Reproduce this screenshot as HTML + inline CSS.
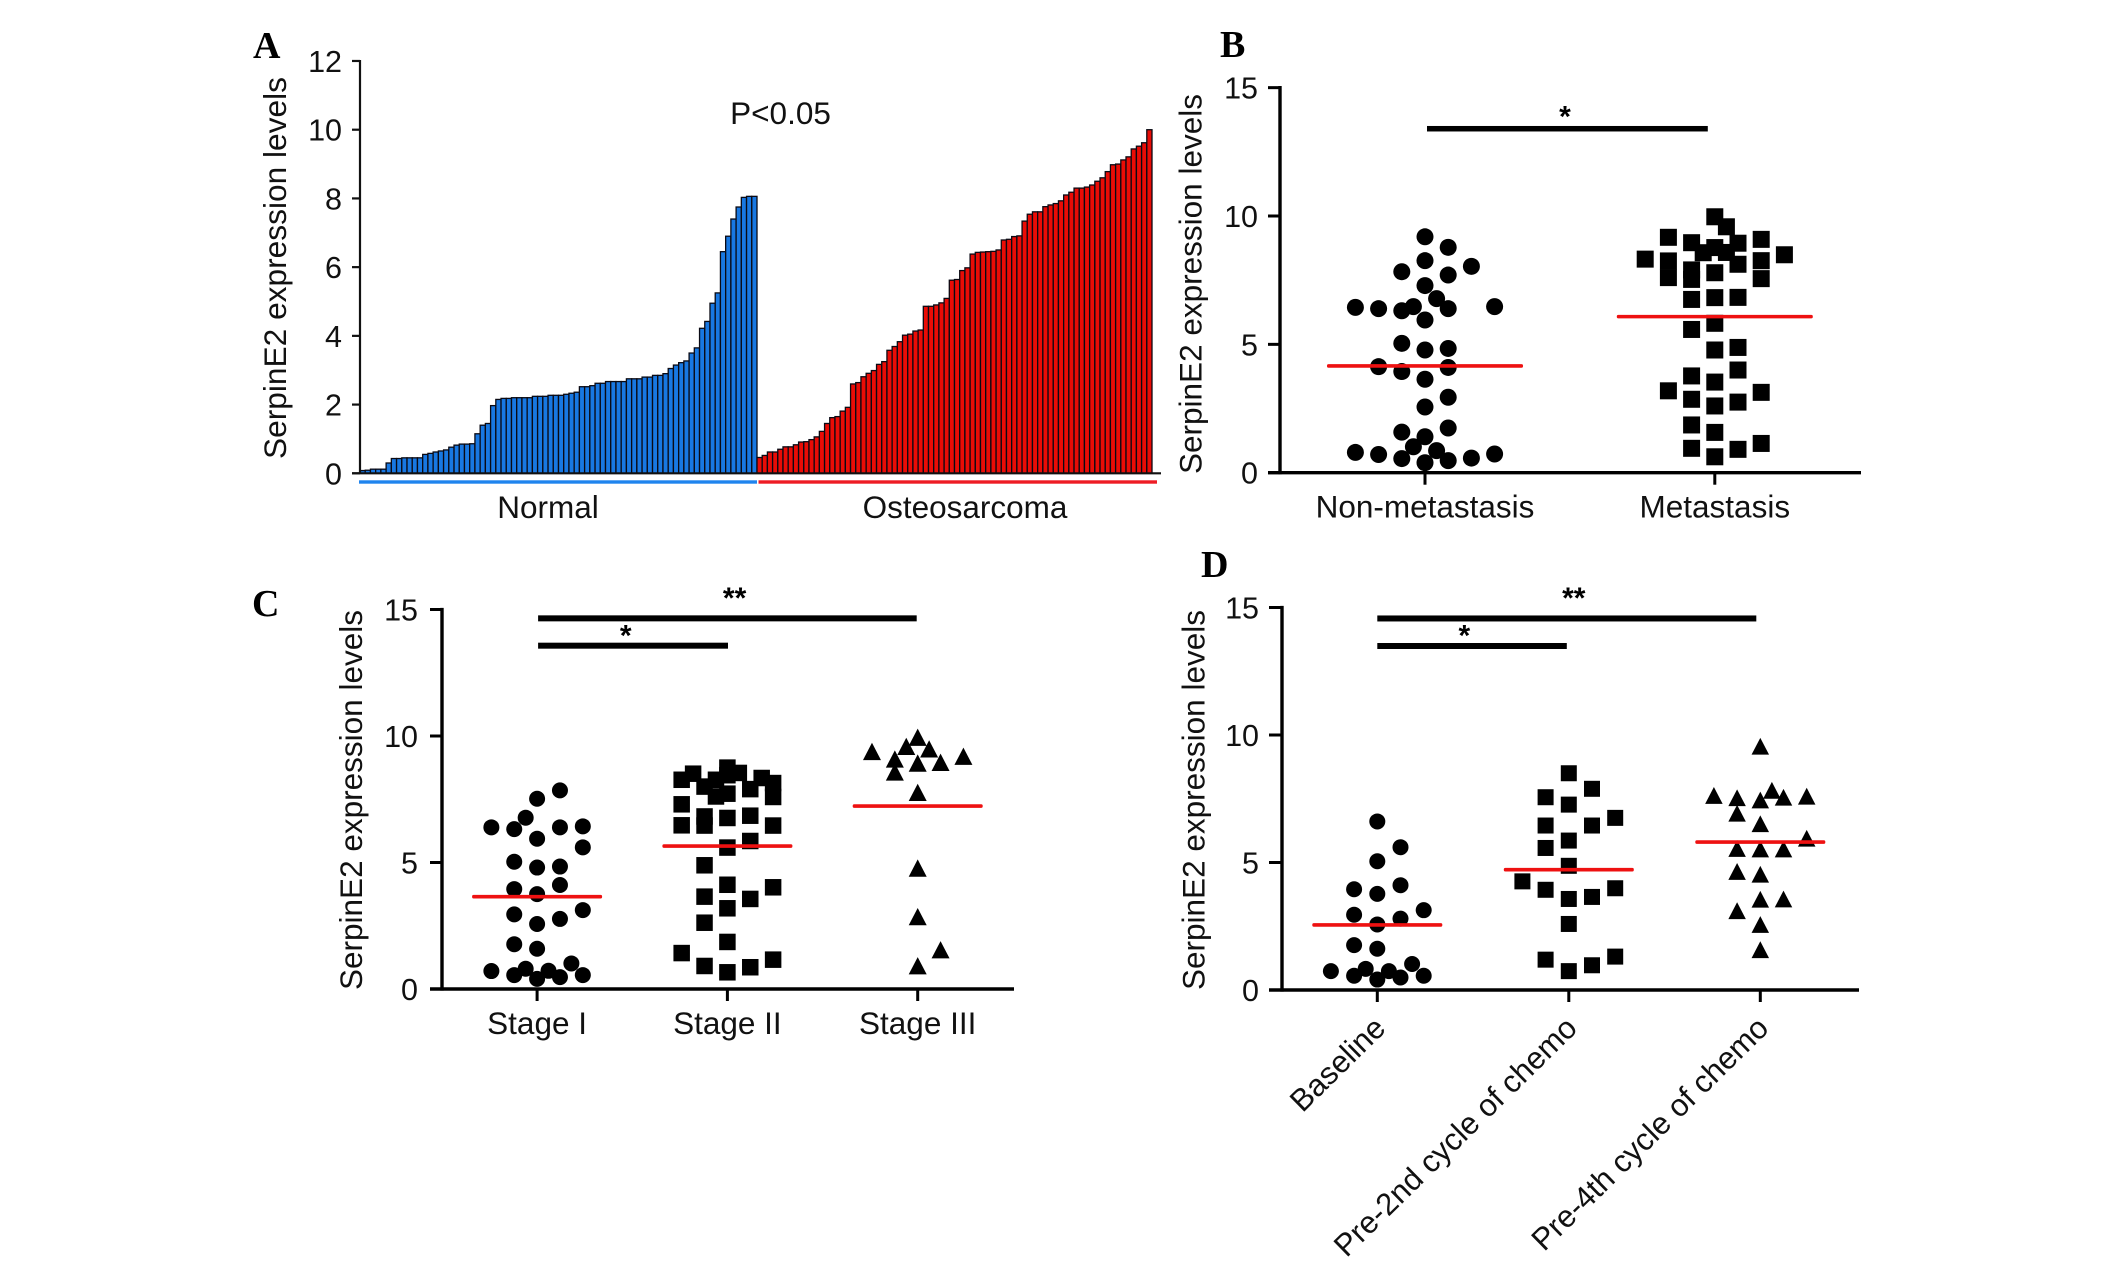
<!DOCTYPE html>
<html lang="en">
<head>
<meta charset="utf-8">
<title>SerpinE2 expression levels</title>
<style>
  html, body { margin: 0; padding: 0; background: #fff; }
  svg { display: block; }
  text { font-family: "Liberation Sans", sans-serif; fill: #111; }
  .lbl { font-size: 31.5px; }
  .lbl-rot { font-size: 31px; }
  .tick { font-size: 30.5px; text-anchor: end; }
  .letter { font-family: "Liberation Serif", serif; font-weight: bold; font-size: 38px; fill: #000; }
  .star { font-weight: bold; font-size: 30px; text-anchor: middle; fill: #000; }
</style>
</head>
<body>
<svg id="figure" xmlns="http://www.w3.org/2000/svg" width="2126" height="1270" viewBox="0 0 2126 1270">
  <rect x="0" y="0" width="2126" height="1270" fill="#ffffff"/>

  <text class="letter" x="253" y="58">A</text>
  <text class="letter" x="1220" y="57">B</text>
  <text class="letter" x="252" y="616">C</text>
  <text class="letter" x="1201" y="577">D</text>

  <text class="lbl" text-anchor="middle" textLength="382" lengthAdjust="spacingAndGlyphs" transform="translate(286 268) rotate(-90)">SerpinE2 expression levels</text>
  <text class="lbl" text-anchor="middle" textLength="380" lengthAdjust="spacingAndGlyphs" transform="translate(1201.5 284) rotate(-90)">SerpinE2 expression levels</text>
  <text class="lbl" text-anchor="middle" textLength="380" lengthAdjust="spacingAndGlyphs" transform="translate(362 800) rotate(-90)">SerpinE2 expression levels</text>
  <text class="lbl" text-anchor="middle" textLength="380" lengthAdjust="spacingAndGlyphs" transform="translate(1204.5 800) rotate(-90)">SerpinE2 expression levels</text>

  <text class="lbl" text-anchor="middle" x="780.5" y="124">P&lt;0.05</text>
  <text class="lbl" text-anchor="middle" x="548" y="518">Normal</text>
  <text class="lbl" text-anchor="middle" x="965" y="518">Osteosarcoma</text>
  <rect x="359" y="480.3" width="398" height="3.4" fill="#1f84ee"/>
  <rect x="758.5" y="480.3" width="398.5" height="3.4" fill="#ee1c25"/>

  <g id="chart-a"></g>
  <g id="chart-b"></g>
  <g id="chart-c"></g>
  <g id="chart-d"></g>
</svg>

<script>
// ---------- Panel A data ----------
const barTickLabels = [0, 2, 4, 6, 8, 10, 12];
const normalLevels = [0.08,0.09,0.12,0.12,0.12,0.3,0.43,0.43,0.45,0.45,0.45,0.45,0.55,0.58,0.62,0.65,0.68,0.76,0.82,0.85,0.85,0.86,1.15,1.4,1.45,1.97,2.15,2.18,2.18,2.2,2.2,2.2,2.2,2.24,2.24,2.24,2.27,2.27,2.27,2.3,2.33,2.36,2.52,2.52,2.55,2.62,2.62,2.67,2.67,2.67,2.67,2.75,2.75,2.75,2.8,2.8,2.85,2.85,2.9,3.05,3.15,3.22,3.27,3.5,3.65,4.22,4.42,4.95,5.25,6.45,6.9,7.4,7.75,8.03,8.06,8.06];
const osteoLevels = [0.46,0.52,0.62,0.62,0.7,0.77,0.77,0.83,0.91,0.92,0.98,1.06,1.22,1.45,1.62,1.65,1.81,1.92,2.6,2.64,2.81,2.91,2.99,3.17,3.25,3.58,3.69,3.83,4.02,4.05,4.14,4.17,4.86,4.86,4.9,4.96,5.09,5.62,5.64,5.9,5.98,6.38,6.43,6.44,6.45,6.46,6.5,6.79,6.81,6.89,6.91,7.34,7.54,7.61,7.61,7.76,7.81,7.85,7.93,8.1,8.18,8.3,8.3,8.33,8.39,8.5,8.6,8.78,8.98,9.0,9.12,9.21,9.44,9.52,9.62,10.0];

// ---------- Panel B data ----------
const metastasisCategories = ['Non-metastasis', 'Metastasis'];
const metastasisTicks = [0, 5, 10, 15];
const nonMetValues = [9.19,8.78,8.26,8.04,7.83,7.7,7.29,6.78,6.44,6.39,6.31,6.47,6.39,6.47,5.95,5.04,4.78,4.84,4.13,3.94,4.1,3.64,2.94,2.56,1.74,1.58,1.4,1.01,0.86,0.79,0.71,0.73,0.55,0.57,0.47,0.39];
const nonMetSlots  = [0,2,0,4,-2,2,0,1,-6,-4,-2,-1,2,6,0,-2,0,2,-4,-2,2,0,2,0,2,-2,0,-1,1,-6,-4,6,-2,4,2,0];
const metValues = [9.97,9.58,9.17,8.96,8.94,9.09,8.77,8.57,8.58,8.49,8.32,8.25,8.26,8.12,7.9,7.79,7.6,7.53,7.56,6.83,6.82,6.75,5.82,5.58,4.88,4.78,4.0,3.77,3.53,3.19,3.13,2.86,2.75,2.6,1.86,1.57,1.14,0.91,0.95,0.62];
const metSlots  = [0,1,-4,-2,2,4,0,-1,1,6,-6,-4,4,2,-2,0,-4,-2,4,2,0,-2,0,-2,2,0,2,-2,0,-4,4,-2,2,0,-2,0,4,2,-2,0];
const metastasisMeans = [4.16, 6.08];

// ---------- Panel C data ----------
const stageCategories = ['Stage I', 'Stage II', 'Stage III'];
const stageTicks = [0, 5, 10, 15];
const stageOneValues = [7.85,7.52,6.77,6.39,6.32,6.39,6.43,5.94,5.6,5.03,4.8,4.84,4.11,3.95,3.75,3.12,2.95,2.77,2.57,1.77,1.59,1.01,0.71,0.8,0.72,0.55,0.55,0.47,0.4];
const stageOneSlots  = [2,0,-1,-4,-2,2,4,0,4,-2,0,2,2,-2,0,4,-2,2,0,-2,0,3,-4,-1,1,-2,4,2,0];
const stageTwoValues = [8.75,8.54,8.51,8.27,8.27,8.34,8.14,8.45,8.0,7.9,7.61,7.72,7.59,7.3,6.82,6.76,6.85,6.46,6.47,6.46,5.85,5.59,4.89,4.12,4.02,3.56,3.65,3.19,2.62,1.86,1.42,0.91,0.86,1.16,0.66];
const stageTwoSlots  = [0,1,-3,-4,-1,3,4,0,-2,2,-1,0,4,-4,-2,0,2,-2,-4,4,2,0,-2,0,4,2,-2,0,-2,0,-4,-2,2,4,0];
const stageThreeValues = [9.95,9.59,9.49,9.39,9.2,9.09,8.93,8.96,8.58,7.77,4.78,2.86,1.55,0.92];
const stageThreeSlots  = [0,-1,1,-4,4,-2,0,2,-2,0,0,0,2,0];
const stageMeans = [3.65, 5.65, 7.23];

// ---------- Panel D data ----------
const chemoCategories = ['Baseline', 'Pre-2nd cycle of chemo', 'Pre-4th cycle of chemo'];
const chemoTicks = [0, 5, 10, 15];
const baselineValues = [6.61,5.6,5.05,4.11,3.95,3.77,3.13,2.95,2.8,2.57,1.76,1.62,1.02,0.74,0.83,0.74,0.56,0.56,0.49,0.41];
const baselineSlots  = [0,2,0,2,-2,0,4,-2,2,0,-2,0,3,-4,-1,1,-2,4,2,0];
const preSecondValues = [8.5,7.89,7.56,7.27,6.75,6.45,6.45,5.86,5.57,4.87,4.26,3.93,3.99,3.65,3.57,2.59,1.31,1.19,0.97,0.74];
const preSecondSlots  = [0,2,-2,0,4,-2,2,0,-2,0,-4,-2,4,2,0,0,4,-2,2,0];
const preFourthValues = [9.56,7.83,7.63,7.54,7.56,7.6,7.45,6.93,6.52,5.95,5.55,5.53,5.53,4.65,4.54,3.56,3.57,3.11,2.57,1.58];
const preFourthSlots  = [0,1,-4,-2,2,4,0,-2,0,4,-2,0,2,-2,0,0,2,-2,0,0];
const chemoMeans = [2.55, 4.72, 5.8];

// ---------- Drawing ----------
const SVG_NS = 'http://www.w3.org/2000/svg';
function make(tag, parent, attrs) {
  const el = document.createElementNS(SVG_NS, tag);
  for (const k in attrs) el.setAttribute(k, attrs[k]);
  parent.appendChild(el);
  return el;
}

function drawBars(parent, values, xStart, xEnd, yOf, fill, name) {
  const step = (xEnd - xStart) / values.length;
  values.forEach(function (v, i) {
    const bar = make('rect', parent, {
      x: xStart + i * step, y: yOf(v), width: step, height: yOf(0) - yOf(v),
      fill: fill, stroke: '#0a0a14', 'stroke-width': 1.3
    });
    
    
  });
}

(function panelA() {
  const g = document.getElementById('chart-a');
  const y0 = 473.3, unit = 34.36, axisX = 360;
  const yOf = function (v) { return y0 - v * unit; };
  drawBars(g, normalLevels, axisX, 757, yOf, '#1878e2', 'normal-bar');
  drawBars(g, osteoLevels, 757, 1152, yOf, '#ea0c06', 'osteosarcoma-bar');

  const yAxis = make('line', g, { x1: axisX, x2: axisX, y1: yOf(12) - 1, y2: y0, stroke: '#111', 'stroke-width': 2.2 });
  
  
  const xAxis = make('line', g, { x1: 352, x2: 1161, y1: y0, y2: y0, stroke: '#111', 'stroke-width': 2.2 });
  
  

  barTickLabels.forEach(function (t) {
    const tick = make('line', g, { x1: 352, x2: axisX, y1: yOf(t), y2: yOf(t), stroke: '#111', 'stroke-width': 2.2 });
    
    
    const lab = make('text', g, { x: 342, y: yOf(t) + 11, class: 'tick' });
    lab.textContent = t;
    
    
  });
})();

function drawPoint(g, shape, cx, cy, size) {
  let el;
  if (shape === 'circle') {
    el = make('circle', g, { cx: cx, cy: cy, r: size / 2, fill: '#000' });
  } else if (shape === 'square') {
    el = make('rect', g, { x: cx - size / 2, y: cy - size / 2, width: size, height: size, fill: '#000' });
  } else {
    const h = size * 0.96;
    el = make('polygon', g, {
      points: cx + ',' + (cy - h / 2) + ' ' + (cx + size / 2) + ',' + (cy + h / 2) + ' ' + (cx - size / 2) + ',' + (cy + h / 2),
      fill: '#000'
    });
  }
  return el;
}

function drawScatterPanel(cfg) {
  const g = document.getElementById(cfg.id);
  const yOf = function (v) { return cfg.y0 - v * cfg.unit; };
  const xOf = function (i) { return cfg.firstX + i * cfg.step; };

  cfg.groups.forEach(function (grp, i) {
    grp.values.forEach(function (v, k) {
      const pt = drawPoint(g, grp.shape, xOf(i) + grp.slots[k] * cfg.slotStep, yOf(v), cfg.sizes[grp.shape]);
      
      
    });
  });

  cfg.means.forEach(function (m, i) {
    const line = make('rect', g, { x: xOf(i) - cfg.meanHalf, y: yOf(m) - 1.8, width: cfg.meanHalf * 2, height: 3.6, rx: 1.5, fill: '#ee1111' });
    
    
  });

  const yAxis = make('line', g, { x1: cfg.axisX, x2: cfg.axisX, y1: yOf(15) - 1.6, y2: cfg.y0 + 1.6, stroke: '#000', 'stroke-width': 3.4 });
  
  
  const xAxis = make('line', g, { x1: cfg.tickLeft, x2: cfg.axisEnd, y1: cfg.y0, y2: cfg.y0, stroke: '#000', 'stroke-width': 3.4 });
  
  

  cfg.ticks.forEach(function (t) {
    const tick = make('line', g, { x1: cfg.tickLeft, x2: cfg.axisX, y1: yOf(t), y2: yOf(t), stroke: '#000', 'stroke-width': 3 });
    
    
    const lab = make('text', g, { x: cfg.labelRight, y: yOf(t) + 11, class: 'tick' });
    lab.textContent = t;
    
    
  });

  cfg.categories.forEach(function (c, i) {
    const tick = make('line', g, { x1: xOf(i), x2: xOf(i), y1: cfg.y0, y2: cfg.y0 + 12, stroke: '#000', 'stroke-width': 3 });
    
    
    const lab = make('text', g, { class: cfg.rotated ? 'lbl-rot' : 'lbl' });
    if (cfg.rotated) {
      lab.setAttribute('text-anchor', 'end');
      lab.setAttribute('transform', 'translate(' + (xOf(i) + 10) + ' ' + (cfg.y0 + 40) + ') rotate(-44.5)');
    } else {
      lab.setAttribute('text-anchor', 'middle');
      lab.setAttribute('x', xOf(i));
      lab.setAttribute('y', cfg.y0 + 45);
    }
    lab.textContent = c;
    
    
  });

  cfg.sig.forEach(function (s) {
    const x1 = xOf(s.from) + s.startOff, x2 = xOf(s.to) + s.endOff, y = yOf(s.level);
    const bar = make('rect', g, { x: x1, y: y - s.thick / 2, width: x2 - x1, height: s.thick, fill: '#000' });
    
    
    const star = make('text', g, { x: s.starX, y: y - 0.4 + s.starDy, class: 'star' });
    star.textContent = s.star;
    
    
  });
}

drawScatterPanel({
  id: 'chart-b', prefix: 'panel-b', y0: 472.7, unit: 25.67, axisX: 1280, tickLeft: 1268, axisEnd: 1861, labelRight: 1258,
  firstX: 1425, step: 289.8, slotStep: 11.6, meanHalf: 98, sizes: { circle: 17, square: 17, triangle: 17 },
  ticks: metastasisTicks, categories: metastasisCategories, means: metastasisMeans,
  groups: [
    { name: 'non-metastasis', shape: 'circle', values: nonMetValues, slots: nonMetSlots },
    { name: 'metastasis', shape: 'square', values: metValues, slots: metSlots }
  ],
  sig: [{ from: 0, to: 1, level: 13.4, thick: 5.5, startOff: 2, endOff: -7, star: '*', starX: 1565, starDy: -2 }]
});

drawScatterPanel({
  id: 'chart-c', prefix: 'panel-c', y0: 989, unit: 25.3, axisX: 442, tickLeft: 430, axisEnd: 1014, labelRight: 418,
  firstX: 537.1, step: 190.3, slotStep: 11.43, meanHalf: 65, sizes: { circle: 16, square: 16.5, triangle: 18 },
  ticks: stageTicks, categories: stageCategories, means: stageMeans,
  groups: [
    { name: 'stage-i', shape: 'circle', values: stageOneValues, slots: stageOneSlots },
    { name: 'stage-ii', shape: 'square', values: stageTwoValues, slots: stageTwoSlots },
    { name: 'stage-iii', shape: 'triangle', values: stageThreeValues, slots: stageThreeSlots }
  ],
  sig: [
    { from: 0, to: 2, level: 14.65, thick: 6, startOff: 1, endOff: -1, star: '**', starX: 734.6, starDy: -10 },
    { from: 0, to: 1, level: 13.57, thick: 6, startOff: 1, endOff: 0.6, star: '*', starX: 625.7, starDy: 0 }
  ]
});

drawScatterPanel({
  id: 'chart-d', prefix: 'panel-d', y0: 990, unit: 25.5, axisX: 1282, tickLeft: 1269, axisEnd: 1859, labelRight: 1259,
  firstX: 1377.3, step: 191.5, slotStep: 11.6, meanHalf: 65, sizes: { circle: 16, square: 16, triangle: 17.5 },
  ticks: chemoTicks, categories: chemoCategories, means: chemoMeans, rotated: true,
  groups: [
    { name: 'baseline', shape: 'circle', values: baselineValues, slots: baselineSlots },
    { name: 'pre-2nd-cycle', shape: 'square', values: preSecondValues, slots: preSecondSlots },
    { name: 'pre-4th-cycle', shape: 'triangle', values: preFourthValues, slots: preFourthSlots }
  ],
  sig: [
    { from: 0, to: 2, level: 14.57, thick: 6, startOff: 0, endOff: -4, star: '**', starX: 1573.8, starDy: -10 },
    { from: 0, to: 1, level: 13.49, thick: 6, startOff: 0, endOff: -2, star: '*', starX: 1464.4, starDy: 0 }
  ]
});
</script>
</body>
</html>
